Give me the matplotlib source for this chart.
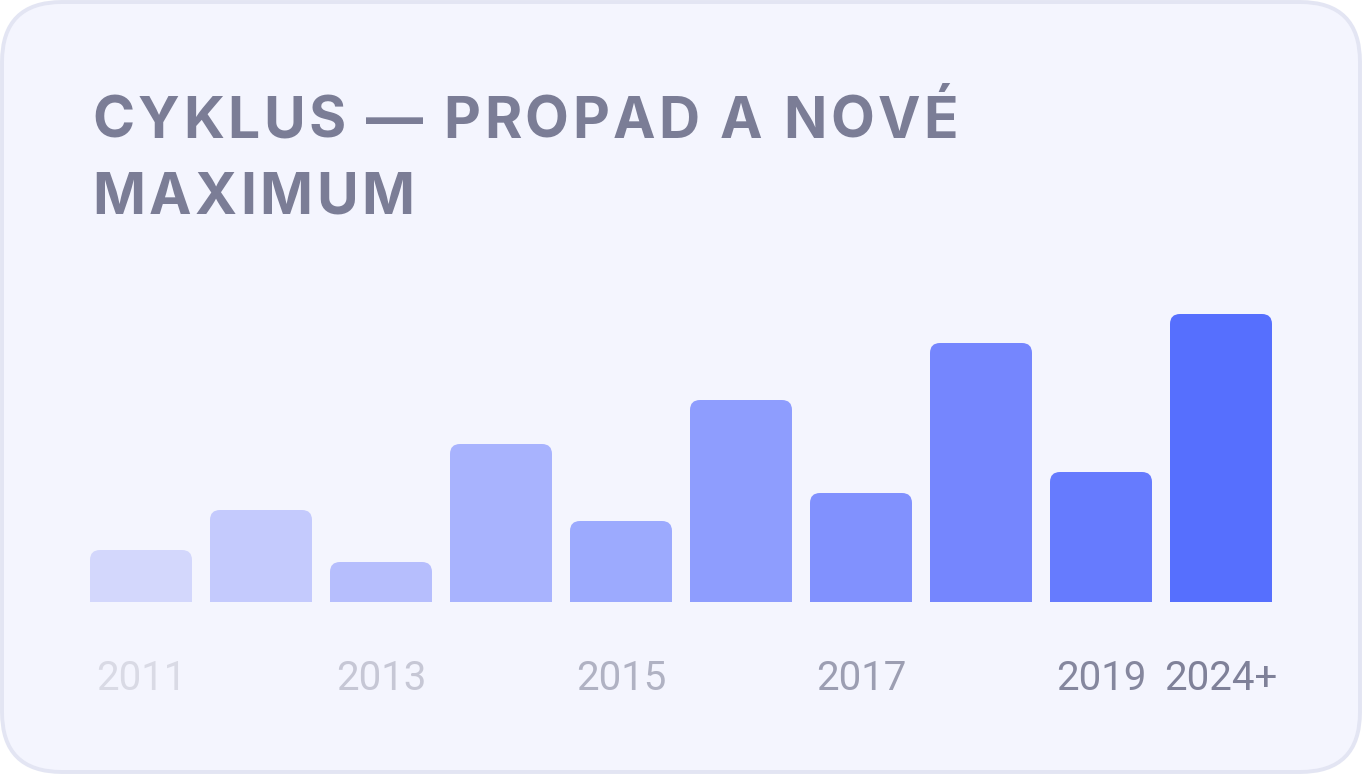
import numpy as np
import matplotlib
matplotlib.use('Agg')
import matplotlib.pyplot as plt
from matplotlib.patches import FancyBboxPatch, Rectangle
from matplotlib.transforms import blended_transform_factory

# data
years = ['2011', '2012', '2013', '2014', '2015', '2016', '2017', '2018', '2019', '2024+']
values = [52, 92, 40, 158, 81, 202, 109, 259, 130, 288]
shown_labels = ['2011', '2013', '2015', '2017', '2019', '2024+']
title_lines = ['CYKLUS — PROPAD A NOVÉ', 'MAXIMUM']

bar_colors = ['#d3d7fc', '#c4cafd', '#b6befd', '#a8b3fe', '#9caafe',
              '#8e9dfe', '#8191fe', '#7586fe', '#667bfe', '#566ffe']
label_colors = ['#d9dae5', '#c6c7d5', '#b0b2c3', '#9c9eb2', '#85879e', '#7f8199']

W, H = 1362, 774
fig = plt.figure(figsize=(W / 100, H / 100), dpi=100)
fig.patch.set_facecolor('white')

# card background
bg = fig.add_axes([0, 0, 1, 1])
bg.set_xlim(0, W)
bg.set_ylim(H, 0)
bg.axis('off')
bg.add_patch(FancyBboxPatch((2, 2), W - 4, H - 4,
                            boxstyle='round,pad=0,rounding_size=60',
                            facecolor='#f4f5fe', edgecolor='#e3e5f3', linewidth=2.8))

# bars axes: 1 x unit = 120 px, 1 y unit = 1 px
base_y = 602
ax = fig.add_axes([81 / W, (H - base_y) / H, 1200 / W, 300 / H])
ax.set_xlim(-0.5, 9.5)
ax.set_ylim(0, 300)
ax.axis('off')

bw = 102 / 120
rad = 10
for i, (v, c) in enumerate(zip(values, bar_colors)):
    ax.add_patch(FancyBboxPatch((i - bw / 2, 0), bw, v,
                                boxstyle='round,pad=0,rounding_size=%f' % (rad / 120),
                                mutation_aspect=120, facecolor=c, edgecolor='none'))
    ax.add_patch(Rectangle((i - bw / 2, 0), bw, min(v, 2 * rad), facecolor=c, edgecolor='none'))

# x labels
trans = blended_transform_factory(ax.transData, fig.transFigure)
for lab, col in zip(shown_labels, label_colors):
    xi = years.index(lab)
    ax.text(xi, 1 - 679 / H, lab, transform=trans, ha='center', va='center',
            fontsize=29, family='Roboto', fontweight='normal', color=col)

# title with letter spacing, drawn char by char
fig.canvas.draw()
renderer = fig.canvas.get_renderer()
title_kw = dict(fontsize=41, family='Inter', fontweight='bold', color='#7b7d96')
spacing = 3.5
line_base = [138, 214]


def text_width(s):
    if not s:
        return 0.0
    t = bg.text(0, 0, s, **title_kw)
    w = t.get_window_extent(renderer).width
    t.remove()
    return w


for line, yb in zip(title_lines, line_base):
    for k, ch in enumerate(line):
        x = 92 + text_width(line[:k].replace(' ', '\u00a0')) + k * spacing
        bg.text(x, yb, ch, va='baseline', ha='left', **title_kw)

fig.savefig('out.png', dpi=100, facecolor='white')
